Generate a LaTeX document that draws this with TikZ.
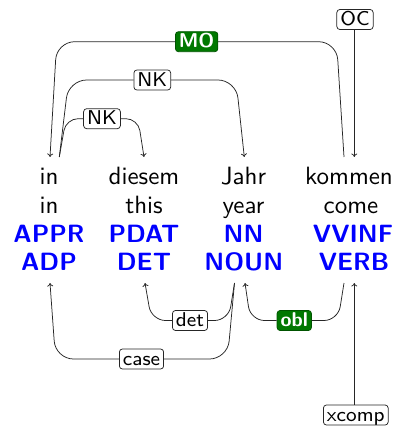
\documentclass[tikz,border=0pt]{standalone}
\usepackage{graphicx}
\usetikzlibrary{arrows.meta,calc}
\definecolor{lblgreen}{RGB}{0,120,0}
\newcommand{\wtext}[1]{\scalebox{2.5}{\fontsize{10}{12}\selectfont\sffamily #1}}
\newcommand{\ptext}[1]{\scalebox{2.5}{\fontsize{10}{12}\selectfont\sffamily\bfseries #1}}
\newcommand{\ltext}[1]{\scalebox{2.5}{\fontsize{8}{9}\selectfont\sffamily #1}}
\newcommand{\gtext}[1]{\scalebox{2.5}{\fontsize{8}{9}\selectfont\sffamily\bfseries #1}}
\tikzset{
  word/.style={anchor=base,inner sep=0pt},
  postag/.style={word,text=blue},
  dep/.style={draw=black!85,line width=0.75pt,rounded corners=18pt,-{To[length=3.5pt,width=6pt]}},
  depline/.style={draw=black!85,line width=0.75pt,rounded corners=18pt},
  lbl/.style={draw=black!85,line width=0.75pt,fill=white,rounded corners=3pt,inner xsep=3.5pt,inner ysep=0pt,
    text height=16pt,text depth=3.6pt,minimum height=20pt},
  glbl/.style={lbl,draw=lblgreen!70!black,fill=lblgreen,text=white}
}
\begin{document}
\begin{tikzpicture}[x=1pt,y=-1pt]
\useasboundingbox (0,0) rectangle (409,430);
% words
\node[word] (w1a) at (49,184.5) {\wtext{in}};
\node[word] (w2a) at (144,184.5) {\wtext{diesem}};
\node[word] (w3a) at (243.5,184.5) {\wtext{Jahr}};
\node[word] (w4a) at (349,184.5) {\wtext{kommen}};
\node[word] (w1b) at (49,213) {\wtext{in}};
\node[word] (w2b) at (144,213) {\wtext{this}};
\node[word] (w3b) at (243.5,213) {\wtext{year}};
\node[word] (w4b) at (351,213) {\wtext{come}};
\node[postag] (w1c) at (49,242) {\ptext{APPR}};
\node[postag] (w2c) at (144,242) {\ptext{PDAT}};
\node[postag] (w3c) at (243.5,242) {\ptext{NN}};
\node[postag] (w4c) at (353,242) {\ptext{VVINF}};
\node[postag] (w1d) at (49,270) {\ptext{ADP}};
\node[postag] (w2d) at (144,270) {\ptext{DET}};
\node[postag] (w3d) at (243.8,270) {\ptext{NOUN}};
\node[postag] (w4d) at (354,270) {\ptext{VERB}};
% top anchors
\coordinate (t1in) at (50,157);
\coordinate (t1out) at (59.3,157);
\coordinate (t2in) at (144,157);
\coordinate (t3in) at (244.3,157);
\coordinate (t4out) at (344,157);
\coordinate (t4in) at (354.3,157);
% bottom anchors
\coordinate (b1in) at (50,283);
\coordinate (b2in) at (145,283);
\coordinate (b3out) at (234.5,283);
\coordinate (b3in) at (245,283);
\coordinate (b4out) at (344,283);
\coordinate (b4in) at (354.3,283);
% corners
\coordinate (moR) at (336.6,41.7);
\coordinate (moL) at (56.7,41.7);
\coordinate (nk1L) at (68.6,80);
\coordinate (nk1R) at (236,80);
\coordinate (nk2L) at (66,118.7);
\coordinate (nk2R) at (138,118.7);
\coordinate (detR) at (228.5,320.5);
\coordinate (detL) at (151.5,320.5);
\coordinate (caseR) at (227.5,359);
\coordinate (caseL) at (55.5,359);
\coordinate (oblR) at (338,320.5);
\coordinate (oblL) at (250.5,320.5);
% labels
\node[glbl] (lmo) at ($(moL)!0.5!(moR)$) {\gtext{MO}};
\node[lbl] (lnk1) at ($(nk1L)!0.5!(nk1R)$) {\ltext{NK}};
\node[lbl] (lnk2) at ($(nk2L)!0.5!(nk2R)$) {\ltext{NK}};
\node[lbl] (loc) at (355,19.5) {\ltext{OC}};
\node[lbl] (ldet) at ($(detL)!0.5!(detR)$) {\ltext{det}};
\node[lbl] (lcase) at ($(caseL)!0.5!(caseR)$) {\ltext{case}};
\node[glbl] (lobl) at ($(oblL)!0.5!(oblR)$) {\gtext{obl}};
\node[lbl] (lxcomp) at (355.8,415) {\ltext{xcomp}};
% connectors
\draw[depline] (t4out) -- (moR) -- (lmo.east);
\draw[dep] (lmo.west) -- (moL) -- (t1in);
\draw[depline] (t1out) -- (nk1L) -- (lnk1.west);
\draw[dep] (lnk1.east) -- (nk1R) -- (t3in);
\draw[depline,rounded corners=12pt] (t1out) -- (nk2L) -- (lnk2.west);
\draw[dep,rounded corners=12pt] (lnk2.east) -- (nk2R) -- (t2in);
\draw[dep] (loc.south -| t4in) -- (t4in);
\draw[depline,rounded corners=14pt] (b3out) -- (detR) -- (ldet.east);
\draw[dep,rounded corners=14pt] (ldet.west) -- (detL) -- (b2in);
\draw[depline] (b3out) -- (caseR) -- (lcase.east);
\draw[dep] (lcase.west) -- (caseL) -- (b1in);
\draw[depline,rounded corners=14pt] (b4out) -- (oblR) -- (lobl.east);
\draw[dep,rounded corners=14pt] (lobl.west) -- (oblL) -- (b3in);
\draw[dep] (lxcomp.north -| b4in) -- (b4in);
\end{tikzpicture}
\end{document}
